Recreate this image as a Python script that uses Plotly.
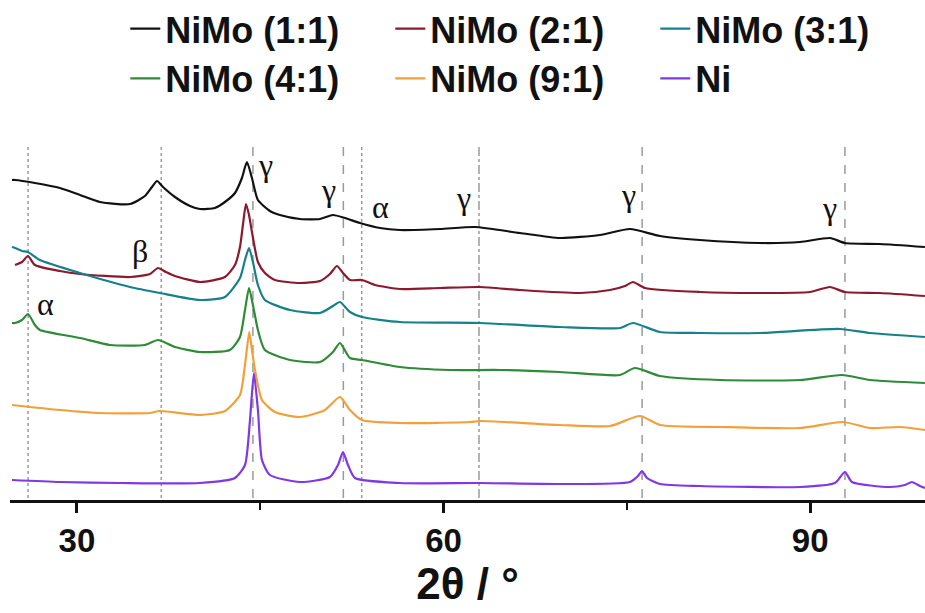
import plotly.graph_objects as go

# ---- data (2theta in degrees, intensity in arbitrary offset units) ----
names = ["NiMo (1:1)", "NiMo (2:1)", "NiMo (3:1)", "NiMo (4:1)", "NiMo (9:1)", "Ni"]
colors = ["#111111", "#8b1a2e", "#17808a", "#2e8b37", "#f2a03a", "#8038e6"]

x_11 = [24.68, 24.93, 26.56, 28.61, 30.25, 31.88, 34.34, 35.56, 36.14, 36.55, 37.04, 38.02, 39.25, 40.07,
        41.29, 42.11, 42.93, 43.50, 43.91, 44.32, 44.81, 45.79, 46.61, 48.25, 49.89, 50.95, 51.93, 53.16,
        54.80, 56.43, 59.71, 62.57, 66.25, 69.53, 72.80, 75.25, 77.71, 80.98, 85.89, 89.17, 91.62, 92.85,
        95.71, 99.39]
y_11 = [320, 320, 317, 312, 305, 298, 296, 304, 313, 319, 313, 303, 294, 291,
        292, 298, 307, 322, 338, 322, 300, 289, 285, 281, 281, 285, 282, 277,
        272, 270, 271, 273, 267, 262, 265, 271, 264, 260, 257, 258, 262, 257,
        256, 253]

x_21 = [24.93, 25.50, 25.99, 26.56, 28.61, 30.25, 34.34, 35.97, 36.63, 37.28, 38.02, 40.07, 42.11, 42.93,
        43.34, 43.58, 43.83, 44.08, 44.32, 44.81, 45.38, 46.20, 48.25, 49.89, 50.70, 51.28, 51.77, 52.34,
        53.32, 54.39, 56.43, 59.71, 62.98, 66.25, 71.16, 73.62, 74.85, 75.50, 76.48, 80.98, 85.89, 89.98,
        91.62, 92.85, 95.71, 99.39]
y_21 = [235, 238, 244, 235, 229, 226, 223, 226, 232, 228, 224, 218, 223, 235,
        253, 275, 296, 285, 268, 238, 227, 220, 217, 219, 226, 234, 227, 220,
        220, 215, 211, 212, 213, 210, 207, 210, 214, 218, 212, 208, 207, 208,
        213, 208, 207, 204]

x_31 = [24.68, 24.93, 25.50, 25.99, 26.97, 30.25, 34.34, 36.79, 40.07, 42.11, 43.34, 43.75, 44.08, 44.40,
        44.81, 45.38, 47.43, 49.89, 50.95, 51.52, 52.34, 53.32, 56.43, 62.98, 69.53, 74.44, 75.50, 77.71,
        80.98, 85.89, 92.44, 94.89, 99.39]
y_31 = [253, 252, 249, 248, 240, 227, 213, 207, 200, 203, 222, 240, 252, 238,
        215, 200, 190, 187, 194, 198, 188, 183, 178, 177, 173, 172, 177, 168,
        167, 167, 171, 167, 163]

x_41 = [24.68, 24.93, 25.50, 25.99, 26.56, 26.97, 30.25, 32.70, 35.56, 36.63, 38.02, 40.07, 42.52, 43.34,
        43.75, 44.08, 44.40, 44.81, 45.38, 47.43, 49.89, 50.95, 51.52, 52.34, 53.32, 56.43, 60.52, 64.62,
        69.53, 74.44, 75.66, 77.71, 82.62, 89.17, 92.60, 94.89, 99.39]
y_41 = [177, 177, 180, 186, 175, 170, 162, 155, 155, 160, 153, 148, 150, 163,
        190, 212, 195, 170, 150, 140, 138, 148, 157, 142, 140, 133, 130, 130,
        128, 125, 132, 124, 120, 120, 125, 120, 117]

x_91 = [24.68, 28.61, 31.88, 35.97, 36.79, 40.07, 42.11, 43.34, 43.75, 44.10, 44.32, 44.57, 45.14, 46.20,
        48.25, 50.29, 51.52, 52.34, 53.32, 56.43, 62.16, 62.98, 69.53, 73.62, 76.07, 77.71, 82.62, 89.17,
        92.68, 94.89, 97.35, 99.39]
y_91 = [95, 90, 87, 87, 89, 85, 89, 105, 135, 168, 150, 130, 100, 88,
        83, 90, 103, 90, 80, 77, 78, 79, 75, 74, 84, 75, 73, 72,
        78, 72, 73, 70]

x_ni = [24.68, 28.61, 33.52, 40.07, 42.93, 43.75, 44.16, 44.48, 44.81, 45.14, 45.79, 48.25, 50.70, 51.36,
        51.77, 52.18, 52.75, 56.43, 62.98, 69.53, 75.25, 75.91, 76.24, 76.65, 77.71, 80.98, 89.17, 92.03,
        92.85, 93.42, 96.53, 97.76, 98.33, 98.98, 99.39]
y_ni = [20, 18, 17, 17, 22, 35, 80, 127, 90, 40, 25, 18, 23, 35,
        48, 35, 22, 17, 17, 16, 18, 24, 29, 22, 16, 14, 13, 17,
        28, 18, 13, 15, 18, 14, 12]

xs = [x_11, x_21, x_31, x_41, x_91, x_ni]
ys = [y_11, y_21, y_31, y_41, y_91, y_ni]

# reference phase lines (2theta) and their dash styles
ref_lines = [26.0, 36.9, 44.4, 51.8, 53.3, 62.9, 76.25, 92.85]
ref_dash = ["dot", "dot", "dash", "dash", "dot", "dashdot", "dash", "dash"]

# phase labels
label_text = ["γ", "γ", "α", "γ", "γ", "γ", "β", "α"]
label_x = [45.4, 50.55, 54.8, 61.6, 75.1, 91.6, 35.15, 27.4]
label_y = [335, 310, 293, 302, 305, 292, 249, 196]

fig = go.Figure()

for xv, dsh in zip(ref_lines, ref_dash):
    fig.add_shape(type="line", xref="x", yref="y", x0=xv, x1=xv, y0=2, y1=355,
                  line=dict(color="#9a9a9a", width=1.5, dash=dsh), layer="below")

for n, c, xv, yv in zip(names, colors, xs, ys):
    fig.add_trace(go.Scatter(x=xv, y=yv, mode="lines", name=n,
                             line=dict(color=c, width=2.2, shape="spline", smoothing=0.6)))

for t, lx, ly in zip(label_text, label_x, label_y):
    fig.add_annotation(x=lx, y=ly, text=t, showarrow=False,
                       font=dict(family="Liberation Serif, DejaVu Serif, serif", size=32, color="#111111"))

fig.update_layout(
    width=925, height=613,
    margin=dict(l=10, r=0, t=130, b=113, autoexpand=False),
    paper_bgcolor="white", plot_bgcolor="white",
    font=dict(family="Liberation Sans, Arial, sans-serif", color="#111111"),
    legend=dict(orientation="h", x=0.126, y=1.355, xanchor="left", yanchor="top",
                entrywidth=220, entrywidthmode="pixels", bgcolor="rgba(0,0,0,0)",
                font=dict(size=36, weight="bold", color="#111111"), itemwidth=30),
    xaxis=dict(range=[24.52, 99.4], showline=True, linecolor="#111111", linewidth=2.5,
               ticks="outside", ticklen=10, tickwidth=2.5, tickcolor="#111111",
               tick0=0, dtick=30, showgrid=False, zeroline=False,
               tickfont=dict(size=33, weight="bold"),
               minor=dict(ticks="outside", dtick=15, tick0=0, ticklen=7, tickwidth=2, tickcolor="#111111"),
               title=dict(text="2θ / °", font=dict(size=44, weight="bold"), standoff=8)),
    yaxis=dict(range=[0, 370], visible=False),
)

fig.write_html("out.html")
